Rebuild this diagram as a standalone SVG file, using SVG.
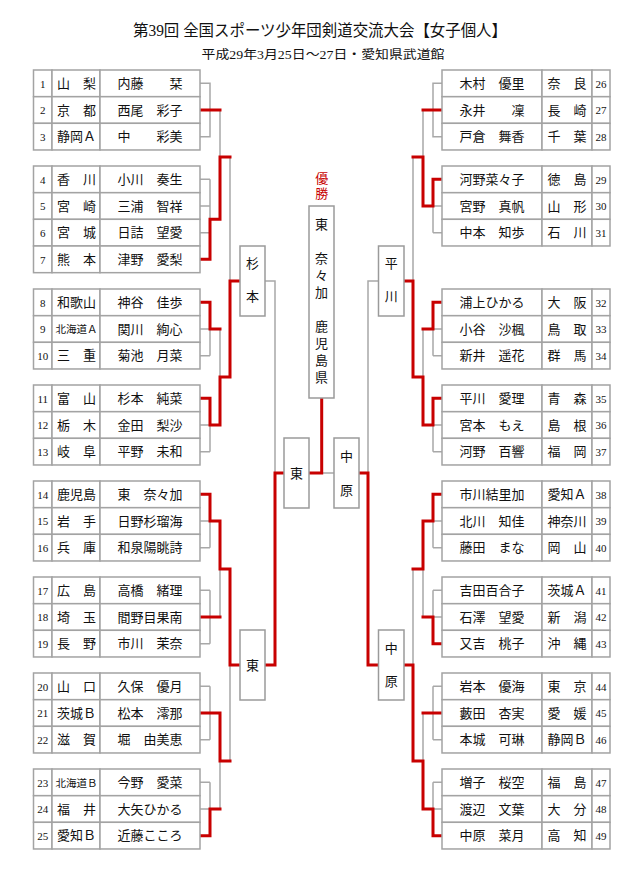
<svg xmlns="http://www.w3.org/2000/svg" xmlns:xlink="http://www.w3.org/1999/xlink" width="640" height="870" viewBox="0 0 640 870">
<style>
.bg{fill:#fff}
.c{fill:#fff;stroke:#a3a3a3;stroke-width:1.5}
.bx{fill:#fff;stroke:#9a9a9a;stroke-width:1.5}
.g{fill:none;stroke:#a8a8a8;stroke-width:1.5}
.r{fill:none;stroke:#c80000;stroke-width:3;stroke-linejoin:miter;stroke-linecap:square}
.t{font-family:"Liberation Serif","Noto Sans CJK JP",serif;font-size:13px;fill:#111;text-anchor:middle}
.n{font-family:"Liberation Serif","Noto Sans CJK JP",serif;font-size:11px;fill:#111;text-anchor:middle}
.s{font-family:"Liberation Serif","Noto Sans CJK JP",serif;font-size:10.5px;fill:#111;text-anchor:middle}
.h{font-family:"Liberation Serif","Noto Sans CJK JP",serif;fill:#111;text-anchor:middle}
.w{font-family:"Liberation Serif","Noto Sans CJK JP",serif;font-size:13px;fill:#c80000;text-anchor:middle}
</style>
<defs>
<g id="rowL"><rect class="c" x="0" y="0" width="18.5" height="26.67"/><rect class="c" x="18.5" y="0" width="48" height="26.67"/><rect class="c" x="66.5" y="0" width="100" height="26.67"/></g>
<g id="rowR"><rect class="c" x="0" y="0" width="100" height="26.67"/><rect class="c" x="100" y="0" width="50" height="26.67"/><rect class="c" x="150" y="0" width="18" height="26.67"/></g>
</defs>
<rect class="bg" x="0" y="0" width="640" height="870"/>
<g id="title">
<text class="h" x="320" y="36" font-size="16" textLength="374" lengthAdjust="spacingAndGlyphs">第39回 全国スポーツ少年団剣道交流大会【女子個人】</text>
<text class="h" x="323" y="59" font-size="12" textLength="243" lengthAdjust="spacingAndGlyphs">平成29年3月25日～27日・愛知県武道館</text>
</g>
<g id="connectors">
<path class="g" d="M200 83.3H210V136.7H200 M220 110V157 M200 179.3H210 M200 206H210 M200 232.7H210 M210 179.3V259.3 M230 157V281 M200 329H210 M200 355.7H210 M210 329V355.7 M220 329V377 M200 425H210 M200 451.7H210 M210 425V451.7 M265 281H275V473 M200 521H210 M200 547.7H210 M210 521V547.7 M200 590.3H210 M200 643.7H210 M210 590.3V643.7 M220 569V617 M230 665V761 M200 686.3H210 M200 739.7H210 M210 686.3V739.7 M200 782.3H210 M200 809H210 M210 782.3V809 M220 761V809 M321.7 473H334"/>
<path class="g" d="M442 83.3H433V136.7H442 M423 110V157 M442 206H433 M442 232.7H433 M433 206V232.7 M413 157V281 M442 329H433 M442 355.7H433 M433 329V355.7 M423 329V377 M442 425H433 M442 451.7H433 M433 425V451.7 M378 281H368V473 M442 521H433 M442 547.7H433 M433 521V547.7 M442 590.3H433 M442 617H433 M433 590.3V617 M423 569V617 M413 569V665 M442 686.3H433 M442 739.7H433 M433 686.3V739.7 M423 713V761 M442 782.3H433 M442 809H433 M433 782.3V809"/>
<path class="r" d="M201 110H220"/>
<path class="r" d="M201 259.3H210V219.3H220V157H230"/>
<path class="r" d="M201 302.3H210V329H220"/>
<path class="r" d="M201 398.3H210V425H220V377H230V281H239"/>
<path class="r" d="M201 494.3H210V521H220V569H230V665H239"/>
<path class="r" d="M201 617H220"/>
<path class="r" d="M201 713H220V761H230"/>
<path class="r" d="M201 835.7H210V809H220"/>
<path class="r" d="M266 665H275V473H283"/>
<path class="r" d="M310 473H321.7V399"/>
<path class="r" d="M441 110H423"/>
<path class="r" d="M441 179.3H433V206H423V157H413"/>
<path class="r" d="M441 302.3H433V329H423"/>
<path class="r" d="M441 398.3H433V425H423V377H413V281H405"/>
<path class="r" d="M441 494.3H433V521H423V569H413"/>
<path class="r" d="M441 643.7H433V617H423"/>
<path class="r" d="M441 713H423"/>
<path class="r" d="M441 835.7H433V809H423V761H413V665H405"/>
<path class="r" d="M377 665H368V473H360"/>
</g>
<g id="champion">
<text class="w" x="321.7" y="183">優</text>
<text class="w" x="321.7" y="198">勝</text>
<rect class="bx" x="309" y="206" width="25" height="192"/>
<text class="t" x="321.5" y="228.5">東</text>
<text class="t" x="321.5" y="262.5">奈</text>
<text class="t" x="321.5" y="279.5">々</text>
<text class="t" x="321.5" y="296.5">加</text>
<text class="t" x="321.5" y="330.5">鹿</text>
<text class="t" x="321.5" y="347.5">児</text>
<text class="t" x="321.5" y="364.5">島</text>
<text class="t" x="321.5" y="381.5">県</text>
</g>
<g id="box-sugimoto"><rect class="bx" x="240" y="246" width="25" height="70"/><text class="t" x="252.5" y="267.5">杉</text><text class="t" x="252.5" y="301">本</text></g>
<g id="box-hirakawa"><rect class="bx" x="378.5" y="246" width="25.5" height="70"/><text class="t" x="391.2" y="267.5">平</text><text class="t" x="391.2" y="301">川</text></g>
<g id="box-higashi-l"><rect class="bx" x="240" y="630" width="25" height="70"/><text class="t" x="252.5" y="669.5">東</text></g>
<g id="box-nakahara-r"><rect class="bx" x="378.5" y="630" width="25.5" height="70"/><text class="t" x="391.2" y="652.5">中</text><text class="t" x="391.2" y="686">原</text></g>
<g id="box-higashi-c"><rect class="bx" x="284" y="438" width="25" height="70"/><text class="t" x="296.5" y="477.5">東</text></g>
<g id="box-nakahara-c"><rect class="bx" x="334" y="438" width="25" height="70"/><text class="t" x="346.5" y="460.5">中</text><text class="t" x="346.5" y="494.5">原</text></g>
<g id="p1"><use href="#rowL" x="33.5" y="70"/><text class="n" x="42.8" y="87.5">1</text><text class="t" x="76.5" y="88">山　梨</text><text class="t" x="150" y="88">内藤　　栞</text></g>
<g id="p2"><use href="#rowL" x="33.5" y="96.7"/><text class="n" x="42.8" y="114.2">2</text><text class="t" x="76.5" y="114.7">京　都</text><text class="t" x="150" y="114.7">西尾　彩子</text></g>
<g id="p3"><use href="#rowL" x="33.5" y="123.3"/><text class="n" x="42.8" y="140.8">3</text><text class="t" x="76.5" y="141.3">静岡Ａ</text><text class="t" x="150" y="141.3">中　　彩美</text></g>
<g id="p4"><use href="#rowL" x="33.5" y="166"/><text class="n" x="42.8" y="183.5">4</text><text class="t" x="76.5" y="184">香　川</text><text class="t" x="150" y="184">小川　奏生</text></g>
<g id="p5"><use href="#rowL" x="33.5" y="192.7"/><text class="n" x="42.8" y="210.2">5</text><text class="t" x="76.5" y="210.7">宮　崎</text><text class="t" x="150" y="210.7">三浦　智祥</text></g>
<g id="p6"><use href="#rowL" x="33.5" y="219.3"/><text class="n" x="42.8" y="236.8">6</text><text class="t" x="76.5" y="237.3">宮　城</text><text class="t" x="150" y="237.3">日詰　望愛</text></g>
<g id="p7"><use href="#rowL" x="33.5" y="246"/><text class="n" x="42.8" y="263.5">7</text><text class="t" x="76.5" y="264">熊　本</text><text class="t" x="150" y="264">津野　愛梨</text></g>
<g id="p8"><use href="#rowL" x="33.5" y="289"/><text class="n" x="42.8" y="306.5">8</text><text class="t" x="76.5" y="307">和歌山</text><text class="t" x="150" y="307">神谷　佳歩</text></g>
<g id="p9"><use href="#rowL" x="33.5" y="315.7"/><text class="n" x="42.8" y="333.2">9</text><text class="s" x="76.5" y="333.2" textLength="42" lengthAdjust="spacingAndGlyphs">北海道Ａ</text><text class="t" x="150" y="333.7">関川　絢心</text></g>
<g id="p10"><use href="#rowL" x="33.5" y="342.3"/><text class="n" x="42.8" y="359.8">10</text><text class="t" x="76.5" y="360.3">三　重</text><text class="t" x="150" y="360.3">菊池　月菜</text></g>
<g id="p11"><use href="#rowL" x="33.5" y="385"/><text class="n" x="42.8" y="402.5">11</text><text class="t" x="76.5" y="403">富　山</text><text class="t" x="150" y="403">杉本　純菜</text></g>
<g id="p12"><use href="#rowL" x="33.5" y="411.7"/><text class="n" x="42.8" y="429.2">12</text><text class="t" x="76.5" y="429.7">栃　木</text><text class="t" x="150" y="429.7">金田　梨沙</text></g>
<g id="p13"><use href="#rowL" x="33.5" y="438.3"/><text class="n" x="42.8" y="455.8">13</text><text class="t" x="76.5" y="456.3">岐　阜</text><text class="t" x="150" y="456.3">平野　未和</text></g>
<g id="p14"><use href="#rowL" x="33.5" y="481"/><text class="n" x="42.8" y="498.5">14</text><text class="t" x="76.5" y="499">鹿児島</text><text class="t" x="150" y="499">東　奈々加</text></g>
<g id="p15"><use href="#rowL" x="33.5" y="507.7"/><text class="n" x="42.8" y="525.2">15</text><text class="t" x="76.5" y="525.7">岩　手</text><text class="t" x="150" y="525.7">日野杉瑠海</text></g>
<g id="p16"><use href="#rowL" x="33.5" y="534.3"/><text class="n" x="42.8" y="551.8">16</text><text class="t" x="76.5" y="552.3">兵　庫</text><text class="t" x="150" y="552.3">和泉陽眺詩</text></g>
<g id="p17"><use href="#rowL" x="33.5" y="577"/><text class="n" x="42.8" y="594.5">17</text><text class="t" x="76.5" y="595">広　島</text><text class="t" x="150" y="595">高橋　緒理</text></g>
<g id="p18"><use href="#rowL" x="33.5" y="603.7"/><text class="n" x="42.8" y="621.2">18</text><text class="t" x="76.5" y="621.7">埼　玉</text><text class="t" x="150" y="621.7">間野目果南</text></g>
<g id="p19"><use href="#rowL" x="33.5" y="630.3"/><text class="n" x="42.8" y="647.8">19</text><text class="t" x="76.5" y="648.3">長　野</text><text class="t" x="150" y="648.3">市川　茉奈</text></g>
<g id="p20"><use href="#rowL" x="33.5" y="673"/><text class="n" x="42.8" y="690.5">20</text><text class="t" x="76.5" y="691">山　口</text><text class="t" x="150" y="691">久保　優月</text></g>
<g id="p21"><use href="#rowL" x="33.5" y="699.7"/><text class="n" x="42.8" y="717.2">21</text><text class="t" x="76.5" y="717.7">茨城Ｂ</text><text class="t" x="150" y="717.7">松本　澪那</text></g>
<g id="p22"><use href="#rowL" x="33.5" y="726.3"/><text class="n" x="42.8" y="743.8">22</text><text class="t" x="76.5" y="744.3">滋　賀</text><text class="t" x="150" y="744.3">堀　由美恵</text></g>
<g id="p23"><use href="#rowL" x="33.5" y="769"/><text class="n" x="42.8" y="786.5">23</text><text class="s" x="76.5" y="786.5" textLength="42" lengthAdjust="spacingAndGlyphs">北海道Ｂ</text><text class="t" x="150" y="787">今野　愛菜</text></g>
<g id="p24"><use href="#rowL" x="33.5" y="795.7"/><text class="n" x="42.8" y="813.2">24</text><text class="t" x="76.5" y="813.7">福　井</text><text class="t" x="150" y="813.7">大矢ひかる</text></g>
<g id="p25"><use href="#rowL" x="33.5" y="822.3"/><text class="n" x="42.8" y="839.8">25</text><text class="t" x="76.5" y="840.3">愛知Ｂ</text><text class="t" x="150" y="840.3">近藤こころ</text></g>
<g id="p26"><use href="#rowR" x="442" y="70"/><text class="t" x="492" y="88">木村　優里</text><text class="t" x="567" y="88">奈　良</text><text class="n" x="601" y="87.5">26</text></g>
<g id="p27"><use href="#rowR" x="442" y="96.7"/><text class="t" x="492" y="114.7">永井　　凜</text><text class="t" x="567" y="114.7">長　崎</text><text class="n" x="601" y="114.2">27</text></g>
<g id="p28"><use href="#rowR" x="442" y="123.3"/><text class="t" x="492" y="141.3">戸倉　舞香</text><text class="t" x="567" y="141.3">千　葉</text><text class="n" x="601" y="140.8">28</text></g>
<g id="p29"><use href="#rowR" x="442" y="166"/><text class="t" x="492" y="184">河野菜々子</text><text class="t" x="567" y="184">徳　島</text><text class="n" x="601" y="183.5">29</text></g>
<g id="p30"><use href="#rowR" x="442" y="192.7"/><text class="t" x="492" y="210.7">宮野　真帆</text><text class="t" x="567" y="210.7">山　形</text><text class="n" x="601" y="210.2">30</text></g>
<g id="p31"><use href="#rowR" x="442" y="219.3"/><text class="t" x="492" y="237.3">中本　知歩</text><text class="t" x="567" y="237.3">石　川</text><text class="n" x="601" y="236.8">31</text></g>
<g id="p32"><use href="#rowR" x="442" y="289"/><text class="t" x="492" y="307">浦上ひかる</text><text class="t" x="567" y="307">大　阪</text><text class="n" x="601" y="306.5">32</text></g>
<g id="p33"><use href="#rowR" x="442" y="315.7"/><text class="t" x="492" y="333.7">小谷　沙楓</text><text class="t" x="567" y="333.7">鳥　取</text><text class="n" x="601" y="333.2">33</text></g>
<g id="p34"><use href="#rowR" x="442" y="342.3"/><text class="t" x="492" y="360.3">新井　遥花</text><text class="t" x="567" y="360.3">群　馬</text><text class="n" x="601" y="359.8">34</text></g>
<g id="p35"><use href="#rowR" x="442" y="385"/><text class="t" x="492" y="403">平川　愛理</text><text class="t" x="567" y="403">青　森</text><text class="n" x="601" y="402.5">35</text></g>
<g id="p36"><use href="#rowR" x="442" y="411.7"/><text class="t" x="492" y="429.7">宮本　もえ</text><text class="t" x="567" y="429.7">島　根</text><text class="n" x="601" y="429.2">36</text></g>
<g id="p37"><use href="#rowR" x="442" y="438.3"/><text class="t" x="492" y="456.3">河野　百響</text><text class="t" x="567" y="456.3">福　岡</text><text class="n" x="601" y="455.8">37</text></g>
<g id="p38"><use href="#rowR" x="442" y="481"/><text class="t" x="492" y="499">市川結里加</text><text class="t" x="567" y="499">愛知Ａ</text><text class="n" x="601" y="498.5">38</text></g>
<g id="p39"><use href="#rowR" x="442" y="507.7"/><text class="t" x="492" y="525.7">北川　知佳</text><text class="t" x="567" y="525.7">神奈川</text><text class="n" x="601" y="525.2">39</text></g>
<g id="p40"><use href="#rowR" x="442" y="534.3"/><text class="t" x="492" y="552.3">藤田　まな</text><text class="t" x="567" y="552.3">岡　山</text><text class="n" x="601" y="551.8">40</text></g>
<g id="p41"><use href="#rowR" x="442" y="577"/><text class="t" x="492" y="595">吉田百合子</text><text class="t" x="567" y="595">茨城Ａ</text><text class="n" x="601" y="594.5">41</text></g>
<g id="p42"><use href="#rowR" x="442" y="603.7"/><text class="t" x="492" y="621.7">石澤　望愛</text><text class="t" x="567" y="621.7">新　潟</text><text class="n" x="601" y="621.2">42</text></g>
<g id="p43"><use href="#rowR" x="442" y="630.3"/><text class="t" x="492" y="648.3">又吉　桃子</text><text class="t" x="567" y="648.3">沖　縄</text><text class="n" x="601" y="647.8">43</text></g>
<g id="p44"><use href="#rowR" x="442" y="673"/><text class="t" x="492" y="691">岩本　優海</text><text class="t" x="567" y="691">東　京</text><text class="n" x="601" y="690.5">44</text></g>
<g id="p45"><use href="#rowR" x="442" y="699.7"/><text class="t" x="492" y="717.7">藪田　杏実</text><text class="t" x="567" y="717.7">愛　媛</text><text class="n" x="601" y="717.2">45</text></g>
<g id="p46"><use href="#rowR" x="442" y="726.3"/><text class="t" x="492" y="744.3">本城　可琳</text><text class="t" x="567" y="744.3">静岡Ｂ</text><text class="n" x="601" y="743.8">46</text></g>
<g id="p47"><use href="#rowR" x="442" y="769"/><text class="t" x="492" y="787">増子　桜空</text><text class="t" x="567" y="787">福　島</text><text class="n" x="601" y="786.5">47</text></g>
<g id="p48"><use href="#rowR" x="442" y="795.7"/><text class="t" x="492" y="813.7">渡辺　文葉</text><text class="t" x="567" y="813.7">大　分</text><text class="n" x="601" y="813.2">48</text></g>
<g id="p49"><use href="#rowR" x="442" y="822.3"/><text class="t" x="492" y="840.3">中原　菜月</text><text class="t" x="567" y="840.3">高　知</text><text class="n" x="601" y="839.8">49</text></g>
</svg>
